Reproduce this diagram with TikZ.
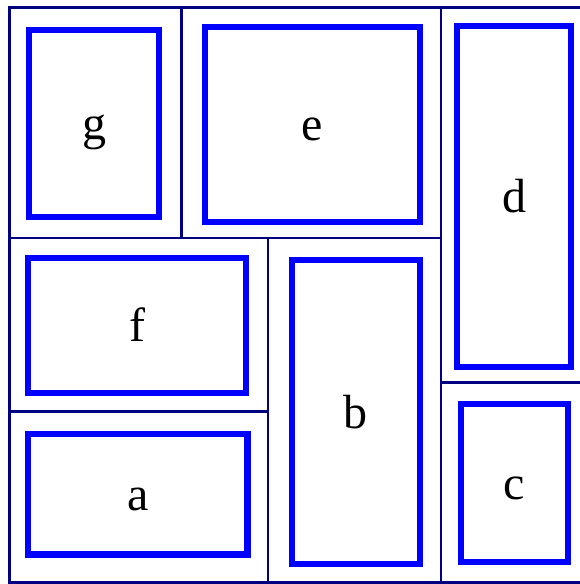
\documentclass[tikz,border=0pt]{standalone}
\usepackage{fontspec}
\setmainfont{Liberation Serif}
\usepackage{xcolor}
\usepackage{tikz}
\definecolor{binnavy}{HTML}{000080}
\definecolor{packblue}{HTML}{0000FF}
\tikzset{
  binline/.style = {draw=binnavy, line width=2.5pt},
  packbox/.style = {rectangle, draw=packblue, line width=6.3pt, inner sep=0pt,
                    font=\fontsize{48}{48}\selectfont, text height=32pt, text depth=0pt},
}
\begin{document}
\begin{tikzpicture}[x=1pt,y=-1pt]
\useasboundingbox (0,0) rectangle (580,584);
% bins
\draw[binline] (9.5,7.5) rectangle (582,582.5);
\draw[binline] (181.5,7.5) -- (181.5,238);
\draw[binline] (9.5,238) -- (441,238);
\draw[binline] (441,7.5) -- (441,582.5);
\draw[binline] (9.5,411.5) -- (268,411.5);
\draw[binline] (268,238) -- (268,582.5);
\draw[binline] (441,382.5) -- (582,382.5);
% packed items
\node[packbox, minimum width=129.6pt, minimum height=187pt]   (g) at (94,123.8)    {g};
\node[packbox, minimum width=214.7pt, minimum height=194.7pt] (e) at (312.6,124.6) {e};
\node[packbox, minimum width=113.5pt, minimum height=341pt]   (d) at (514,196.5)   {d};
\node[packbox, minimum width=217.4pt, minimum height=134.7pt] (f) at (137,325.6)   {f};
\node[packbox, minimum width=219.2pt, minimum height=120.3pt] (a) at (137.9,494.3) {a};
\node[packbox, minimum width=128.3pt, minimum height=303.9pt] (b) at (355.8,412.2) {b};
\node[packbox, minimum width=107.2pt, minimum height=158.5pt] (c) at (514.4,483)   {c};
\end{tikzpicture}
\end{document}
